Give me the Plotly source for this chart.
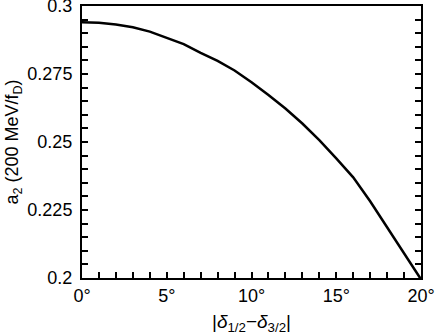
import plotly.graph_objects as go

# phase difference in degrees
delta_diff = [0, 1, 2, 3, 4, 5, 6, 7, 8, 9, 10, 11, 12, 13, 14, 15, 16, 17, 18, 19, 20]
# a2 in units of 200 MeV/fD
a2 = [0.2940, 0.2938, 0.2932, 0.2922, 0.2906, 0.2883, 0.2860, 0.2828, 0.2798, 0.2763,
      0.2720, 0.2673, 0.2623, 0.2568, 0.2507, 0.2440, 0.2370, 0.2282, 0.2185, 0.2092, 0.1995]

# tick labels
x_ticks = [0, 5, 10, 15, 20]
x_labels = ["0°", "5°", "10°", "15°", "20°"]
y_ticks = [0.2, 0.225, 0.25, 0.275, 0.3]
y_labels = ["0.2", "0.225", "0.25", "0.275", "0.3"]

fig = go.Figure()

fig.add_trace(go.Scatter(
    x=delta_diff,
    y=a2,
    mode='lines',
    line=dict(color='black', width=2.5),
    showlegend=False
))

font = dict(family="Liberation Sans, Arial, sans-serif", size=18, color="black")

tick_style = dict(ticks='inside', ticklen=6, tickwidth=2, tickcolor='black')
minor_y = dict(tickmode='linear', tick0=0.2, dtick=0.005, ticks='inside', ticklen=6,
               tickwidth=1.5, tickcolor='black')

fig.update_layout(
    width=436,
    height=336,
    margin=dict(l=82, r=15, t=6, b=58, autoexpand=False),
    plot_bgcolor="white",
    paper_bgcolor="white",
    font=font,
    xaxis=dict(
        range=[0, 20], domain=[0, 1],
        tickmode='array', tickvals=x_ticks, ticktext=x_labels,
        minor=dict(tickmode='linear', tick0=0, dtick=1, ticks='inside', ticklen=6, tickwidth=1.5, tickcolor='black'),
        showline=True, linecolor='black', linewidth=2, mirror=True,
        showgrid=False, zeroline=False, automargin=False,
        ticklabeloverflow='allow',
        title=dict(text="|<i>δ</i><sub>1/2</sub>−<i>δ</i><sub>3/2</sub>|", standoff=10,
                   font=dict(size=19)),
        **tick_style,
    ),
    yaxis=dict(
        range=[0.2, 0.3],
        tickmode='array', tickvals=y_ticks, ticktext=y_labels,
        minor=minor_y,
        showline=True, linecolor='black', linewidth=2, mirror='ticks',
        showgrid=False, zeroline=False, automargin=False,
        ticklabeloverflow='allow', ticklabelstandoff=4,
        title=dict(text="a<sub>2</sub> (200 MeV/f<sub>D</sub>)", standoff=4,
                   font=dict(size=18)),
        **tick_style,
    ),
    # overlay axis sitting on the left edge, facing right, to carry the left-side ticks
    yaxis2=dict(
        overlaying='y', side='right', anchor='free', position=0,
        range=[0.2, 0.3],
        tickmode='array', tickvals=y_ticks, showticklabels=False,
        ticks='outside', ticklen=6, tickwidth=2, tickcolor='black',
        minor=dict(tickmode='linear', tick0=0.2, dtick=0.005, ticks='outside', ticklen=6,
                   tickwidth=1.5, tickcolor='black'),
        showline=False, showgrid=False, zeroline=False, automargin=False,
    ),
)

# drop the default page margin so the figure sits at the window corner
fig.write_html("out.html", config={"displayModeBar": False},
               post_script="document.body.style.margin='0px';")
